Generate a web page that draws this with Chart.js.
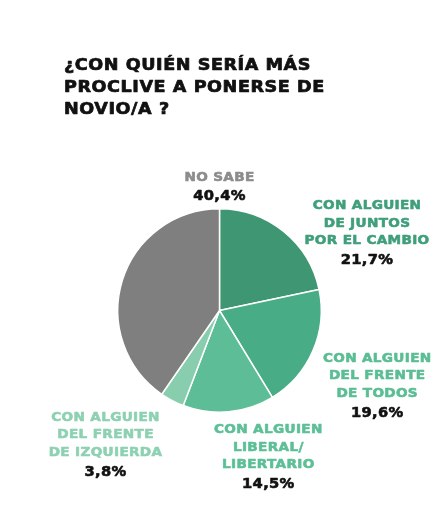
<!DOCTYPE html>
<html>
<head>
<meta charset="utf-8">
<script src="https://cdn.jsdelivr.net/npm/chart.js@4"></script>
<style>
  html, body { margin: 0; padding: 0; background: #fff; }
  #wrap { width: 440px; height: 508px; position: relative; }
</style>
</head>
<body>
<div id="wrap"><canvas id="grafico"></canvas></div>
<script>
// datos del grafico
const titulo = ['¿CON QUIÉN SERÍA MÁS', 'PROCLIVE A PONERSE DE', 'NOVIO/A ?'];
const categorias = [
  ['CON ALGUIEN', 'DE JUNTOS', 'POR EL CAMBIO'],
  ['CON ALGUIEN', 'DEL FRENTE', 'DE TODOS'],
  ['CON ALGUIEN', 'LIBERAL/', 'LIBERTARIO'],
  ['CON ALGUIEN', 'DEL FRENTE', 'DE IZQUIERDA'],
  ['NO SABE']
];
const valores = [21.7, 19.6, 14.5, 3.8, 40.4];

const coloresSector = ['#3e9673', '#48ad87', '#5cbd96', '#88cdae', '#7f7f7f'];
const coloresTexto = ['#3f9f7a', '#5bbd93', '#5cbf96', '#8dd1b2', '#8c8c8c'];

// donde va cada etiqueta, relativo al centro de la torta (en radios)
const posEtiqueta = [
  { x: 1.45, y: -1.03 },
  { x: 1.55, y: 0.47 },
  { x: 0.48, y: 1.17 },
  { x: -1.12, y: 1.05 },
  { x: 0.0, y: -1.31 }
];

const formato = v => v.toFixed(1).replace('.', ',') + '%';

// texto ancho y grueso, parecido a Gotham
function texto(ctx, t, x, y, escala, grosor) {
  ctx.save();
  ctx.translate(x, y);
  ctx.scale(escala, 1);
  ctx.lineWidth = grosor;
  ctx.strokeStyle = ctx.fillStyle;
  ctx.lineJoin = 'round';
  ctx.strokeText(t, 0, 0);
  ctx.fillText(t, 0, 0);
  ctx.restore();
}

const textosPlugin = {
  id: 'textos',
  afterDraw(chart) {
    const ctx = chart.ctx;
    ctx.save();
    ctx.textBaseline = 'middle';

    // titulo
    ctx.fillStyle = '#111';
    ctx.textAlign = 'left';
    ctx.font = 'bold 16px "DejaVu Sans"';
    ctx.letterSpacing = '0.5px';
    titulo.forEach((linea, i) => texto(ctx, linea, 64, 66 + i * 22, 1.1, 0.7));

    // etiquetas
    const arco = chart.getDatasetMeta(0).data[0];
    const cx = arco.x, cy = arco.y, r = arco.outerRadius;
    ctx.textAlign = 'center';
    categorias.forEach((lineas, i) => {
      const x = cx + posEtiqueta[i].x * r;
      let y = cy + posEtiqueta[i].y * r;
      ctx.font = 'bold 13px "DejaVu Sans"';
      ctx.letterSpacing = '0.3px';
      ctx.fillStyle = coloresTexto[i];
      lineas.forEach((l, j) => texto(ctx, l, x, y + j * 17.7, 1.05, 0.6));
      y += (lineas.length - 1) * 17.7 + 19.5;
      ctx.font = 'bold 14px "DejaVu Sans"';
      ctx.letterSpacing = '0.3px';
      ctx.fillStyle = '#111';
      texto(ctx, formato(valores[i]), x, y, 1.05, 0.6);
    });
    ctx.restore();
  }
};

new Chart(document.getElementById('grafico'), {
  type: 'pie',
  data: {
    labels: categorias.map(c => c.join(' ')),
    datasets: [{
      data: valores,
      backgroundColor: coloresSector,
      borderColor: '#ffffff',
      borderWidth: 1.5
    }]
  },
  options: {
    responsive: true,
    maintainAspectRatio: false,
    animation: false,
    layout: { padding: { top: 208, bottom: 95, left: 117, right: 118 } },
    plugins: {
      legend: { display: false },
      tooltip: { enabled: false }
    }
  },
  plugins: [textosPlugin]
});
</script>
</body>
</html>
